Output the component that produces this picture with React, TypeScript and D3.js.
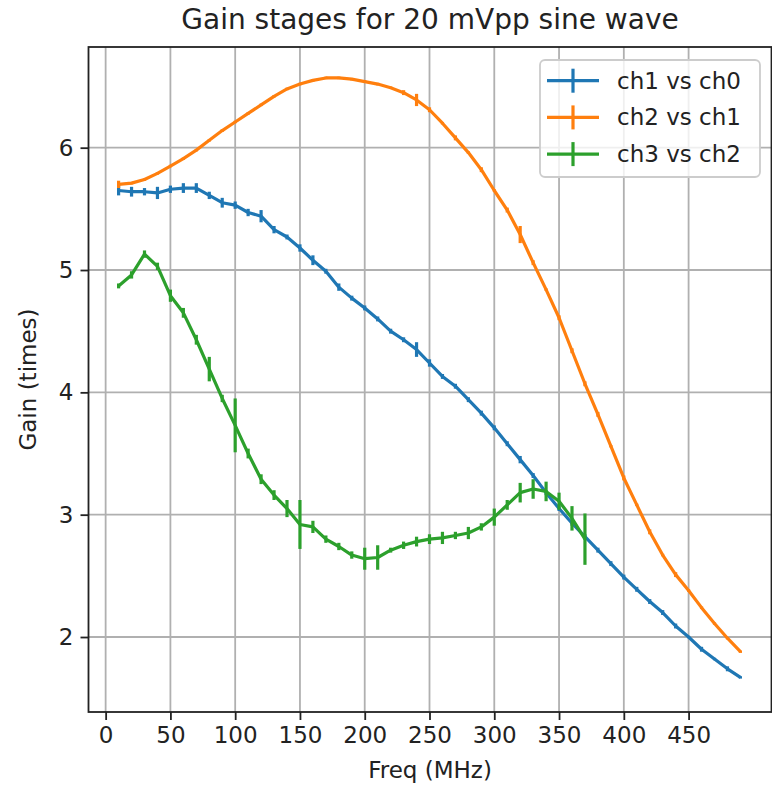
import { useEffect, useRef } from 'react';
import * as d3 from 'd3';

// Frequencies (MHz)
const freqs = [10, 20, 30, 40, 50, 60, 70, 80, 90, 100, 110, 120, 130, 140, 150, 160, 170, 180, 190, 200,
    210, 220, 230, 240, 250, 260, 270, 280, 290, 300, 310, 320, 330, 340, 350, 360, 370, 380, 390, 400,
    410, 420, 430, 440, 450, 460, 470, 480, 490];

// ch1 vs ch0
const gain10 = [5.65, 5.64, 5.64, 5.63, 5.66, 5.67, 5.67, 5.61, 5.55, 5.53, 5.47, 5.44, 5.33, 5.27, 5.18, 5.08, 4.99, 4.86, 4.77, 4.69,
    4.60, 4.50, 4.43, 4.35, 4.24, 4.13, 4.05, 3.94, 3.83, 3.71, 3.58, 3.45, 3.32, 3.18, 3.05, 2.93, 2.82, 2.71, 2.60, 2.49,
    2.39, 2.29, 2.20, 2.09, 2.00, 1.90, 1.82, 1.74, 1.67];
const err10 = [0.04, 0.04, 0.03, 0.05, 0.03, 0.04, 0.04, 0.03, 0.04, 0.03, 0.03, 0.05, 0.03, 0.02, 0.03, 0.04, 0.02, 0.03, 0.02, 0.02,
    0.02, 0.02, 0.02, 0.06, 0.03, 0.02, 0.02, 0.02, 0.02, 0.02, 0.02, 0.03, 0.02, 0.02, 0.02, 0.02, 0.02, 0.02, 0.02, 0.02,
    0.02, 0.02, 0.02, 0.02, 0.01, 0.02, 0.01, 0.02, 0.01];

// ch2 vs ch1
const gain21 = [5.70, 5.71, 5.74, 5.79, 5.85, 5.91, 5.98, 6.06, 6.14, 6.21, 6.28, 6.35, 6.42, 6.48, 6.52, 6.55, 6.57, 6.57, 6.56, 6.54,
    6.52, 6.49, 6.45, 6.39, 6.31, 6.20, 6.08, 5.96, 5.82, 5.65, 5.49, 5.29, 5.06, 4.84, 4.61, 4.34, 4.07, 3.82, 3.56, 3.30,
    3.08, 2.86, 2.67, 2.51, 2.38, 2.24, 2.11, 1.99, 1.88];
const err21 = [0.03, 0.01, 0.01, 0.01, 0.01, 0.01, 0.01, 0.01, 0.01, 0.01, 0.01, 0.01, 0.01, 0.01, 0.01, 0.01, 0.01, 0.01, 0.01, 0.01,
    0.01, 0.01, 0.02, 0.05, 0.02, 0.01, 0.02, 0.01, 0.02, 0.01, 0.02, 0.07, 0.02, 0.01, 0.02, 0.02, 0.02, 0.02, 0.01, 0.02,
    0.01, 0.02, 0.01, 0.02, 0.01, 0.01, 0.01, 0.01, 0.01];

// ch3 vs ch2 (to 370 MHz)
const freqs32 = [10, 20, 30, 40, 50, 60, 70, 80, 90, 100, 110, 120, 130, 140, 150, 160, 170, 180, 190, 200,
    210, 220, 230, 240, 250, 260, 270, 280, 290, 300, 310, 320, 330, 340, 350, 360, 370];
const gain32 = [4.87, 4.96, 5.13, 5.03, 4.79, 4.65, 4.43, 4.19, 3.95, 3.73, 3.50, 3.29, 3.16, 3.05, 2.92, 2.90, 2.80, 2.74, 2.67, 2.64,
    2.65, 2.71, 2.75, 2.78, 2.80, 2.81, 2.83, 2.85, 2.90, 2.98, 3.08, 3.18, 3.21, 3.19, 3.11, 2.97, 2.80];
const err32 = [0.02, 0.03, 0.03, 0.03, 0.05, 0.04, 0.04, 0.10, 0.03, 0.22, 0.04, 0.04, 0.04, 0.07, 0.20, 0.05, 0.03, 0.03, 0.03, 0.09,
    0.10, 0.02, 0.03, 0.04, 0.04, 0.05, 0.03, 0.05, 0.03, 0.07, 0.04, 0.08, 0.08, 0.08, 0.07, 0.10, 0.21];

const xTicks = [0, 50, 100, 150, 200, 250, 300, 350, 400, 450];
const yTicks = [2, 3, 4, 5, 6];

const series = [
    { label: "ch1 vs ch0", color: "#1f77b4", x: freqs, y: gain10, e: err10 },
    { label: "ch2 vs ch1", color: "#ff7f0e", x: freqs, y: gain21, e: err21 },
    { label: "ch3 vs ch2", color: "#2ca02c", x: freqs32, y: gain32, e: err32 },
];

const FONT = "'DejaVu Sans', sans-serif";

export default function App() {
    const ref = useRef<SVGSVGElement | null>(null);

    useEffect(() => {
        const svg = d3.select(ref.current);
        svg.selectAll("*").remove();

        const left = 88.5, right = 771.5, top = 47, bottom = 712;

        const x = d3.scaleLinear().domain([-14, 514]).range([87.5, right]);
        const y = d3.scaleLinear().domain([1.387, 6.823]).range([bottom, top]);

        svg.append("rect").attr("width", 772).attr("height", 788).attr("fill", "white");

        // Title
        svg.append("text")
            .attr("x", (left + right) / 2).attr("y", 29)
            .attr("text-anchor", "middle")
            .style("font-family", FONT).style("font-size", "28px").attr("fill", "#222")
            .text("Gain stages for 20 mVpp sine wave");

        // Grid
        const grid = svg.append("g").attr("stroke", "#b0b0b0").attr("stroke-width", 1.8);
        xTicks.forEach(t => {
            grid.append("line").attr("x1", x(t)).attr("x2", x(t)).attr("y1", top).attr("y2", bottom);
        });
        yTicks.forEach(t => {
            grid.append("line").attr("x1", left).attr("x2", right).attr("y1", y(t)).attr("y2", y(t));
        });

        // Axes
        const xAxis = d3.axisBottom(x).tickValues(xTicks).tickFormat(d3.format("d")).tickSize(8).tickPadding(7).tickSizeOuter(0);
        const yAxis = d3.axisLeft(y).tickValues(yTicks).tickFormat(d3.format("d")).tickSize(8).tickPadding(7).tickSizeOuter(0);

        const gx = svg.append("g").attr("transform", `translate(0,${bottom})`).call(xAxis);
        const gy = svg.append("g").attr("transform", `translate(${left},0)`).call(yAxis);
        [gx, gy].forEach(g => {
            g.select(".domain").remove();
            g.selectAll(".tick line").attr("stroke", "#222").attr("stroke-width", 1.8);
            g.selectAll(".tick text")
                .style("font-family", FONT).style("font-size", "23px").attr("fill", "#222");
        });

        // Series
        const line = d3.line<[number, number]>().x(d => x(d[0])).y(d => y(d[1]));
        series.forEach(s => {
            const pts: [number, number][] = s.x.map((v, i) => [v, s.y[i]]);
            svg.append("path")
                .attr("d", line(pts))
                .attr("fill", "none")
                .attr("stroke", s.color)
                .attr("stroke-width", 3.2)
                .attr("stroke-linejoin", "round");
            svg.append("g").selectAll("line")
                .data(s.x.map((v, i) => ({ f: v, g: s.y[i], e: s.e[i] })))
                .enter()
                .append("line")
                .attr("x1", d => x(d.f)).attr("x2", d => x(d.f))
                .attr("y1", d => y(d.g - d.e)).attr("y2", d => y(d.g + d.e))
                .attr("stroke", s.color)
                .attr("stroke-width", 3.2);
        });

        // Spines
        svg.append("rect")
            .attr("x", left).attr("y", top)
            .attr("width", right - left).attr("height", bottom - top)
            .attr("fill", "none").attr("stroke", "#222").attr("stroke-width", 1.8);

        // Axis labels
        svg.append("text")
            .attr("x", (left + right) / 2).attr("y", 778)
            .attr("text-anchor", "middle")
            .style("font-family", FONT).style("font-size", "23px").attr("fill", "#222")
            .text("Freq (MHz)");
        svg.append("text")
            .attr("transform", `translate(36,${(top + bottom) / 2}) rotate(-90)`)
            .attr("text-anchor", "middle")
            .style("font-family", FONT).style("font-size", "23px").attr("fill", "#222")
            .text("Gain (times)");

        // Legend
        const lg = svg.append("g");
        lg.append("rect")
            .attr("x", 540).attr("y", 60).attr("width", 220).attr("height", 117)
            .attr("rx", 5)
            .attr("fill", "white").attr("fill-opacity", 0.8)
            .attr("stroke", "#cccccc").attr("stroke-width", 1.8);
        series.forEach((s, i) => {
            const cy = 80.7 + i * 36.7;
            lg.append("line").attr("x1", 547).attr("x2", 599).attr("y1", cy).attr("y2", cy)
                .attr("stroke", s.color).attr("stroke-width", 3.2);
            lg.append("line").attr("x1", 573).attr("x2", 573).attr("y1", cy - 12).attr("y2", cy + 12)
                .attr("stroke", s.color).attr("stroke-width", 3.2);
            lg.append("text")
                .attr("x", 617).attr("y", cy + 8)
                .style("font-family", FONT).style("font-size", "23px").attr("fill", "#222")
                .text(s.label);
        });
    }, []);

    return (
        <svg ref={ref} width={772} height={788}
            style={{ position: "absolute", left: 0, top: 0 }} />
    );
}
